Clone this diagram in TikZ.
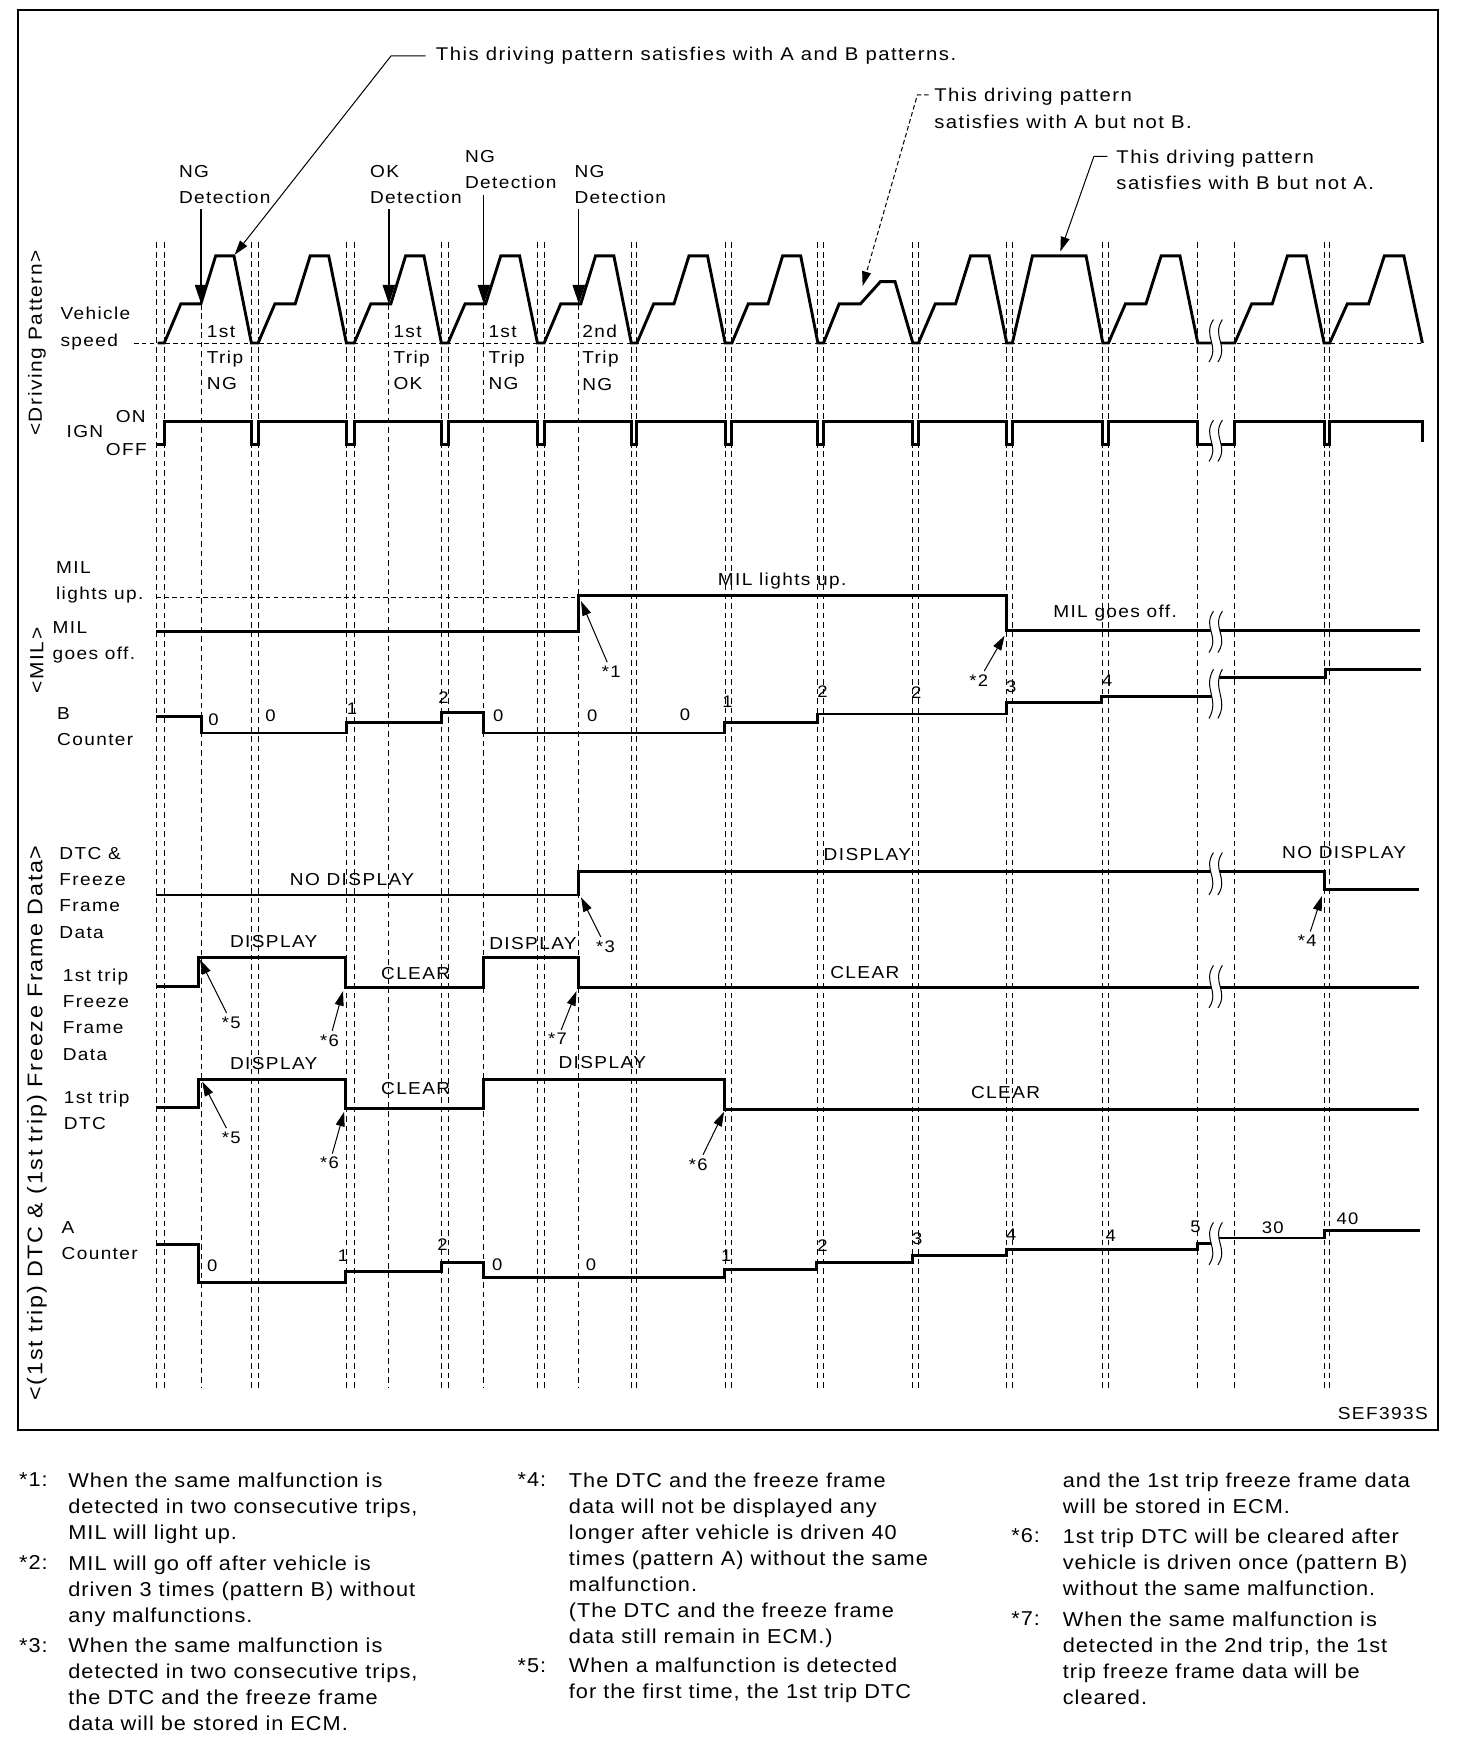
\documentclass[tikz,border=0pt]{standalone}
\usepackage{fontspec}
\setmainfont{Liberation Sans}
\newfontfamily\lblfont{Liberation Sans}[FakeStretch=1.1,LetterSpace=8]
\newfontfamily\notefont{Liberation Sans}[FakeStretch=1.08,LetterSpace=5]
\usetikzlibrary{arrows.meta}
\tikzset{
  sig/.style={line width=2.6pt,black},
  grid/.style={dash pattern=on 5pt off 3.5pt,line width=0.9pt,black},
  base/.style={dash pattern=on 4pt off 3pt,line width=0.7pt,black},
  frame/.style={line width=1.3pt,black},
  cutline/.style={line width=0.9pt,black},
  lbl/.style={font=\lblfont\fontsize{15.5}{23.5}\selectfont,inner sep=0pt,align=left},
  toplbl/.style={lbl,font=\lblfont\fontsize{16.5}{23.5}\selectfont},
  num/.style={font=\lblfont\fontsize{15}{18}\selectfont,inner sep=0pt},
  star/.style={font=\lblfont\fontsize{15}{18}\selectfont,inner sep=3pt},
  side/.style={font=\lblfont\fontsize{17}{20}\selectfont,rotate=90,inner sep=0pt},
  note/.style={font=\notefont\fontsize{18}{23.3}\selectfont,inner sep=0pt,align=left,anchor=north west},
  pointer/.style={-{Triangle[length=13pt,width=8pt]},line width=0.9pt},
  detect/.style={-{Triangle[length=17pt,width=11pt]},line width=1.2pt},
}
\newcommand\cutmark[2]{%
  \fill[white] (1086,#1) .. controls (1076,{#1+0.4*#2}) and (1092,{#1+0.6*#2}) .. (1082,{#1+#2})
    -- (1090,{#1+#2}) .. controls (1100,{#1+0.6*#2}) and (1084,{#1+0.4*#2}) .. (1094,#1) -- cycle;
  \draw[cutline] (1086,#1) .. controls (1076,{#1+0.4*#2}) and (1092,{#1+0.6*#2}) .. (1082,{#1+#2});
  \draw[cutline] (1094,#1) .. controls (1084,{#1+0.4*#2}) and (1100,{#1+0.6*#2}) .. (1090,{#1+#2});
}

\begin{document}
\begin{tikzpicture}[x=1pt,y=-1pt]
  \useasboundingbox (0,0) rectangle (1317,1568);
  \draw[frame] (16,9) rectangle (1287,1280);
  \foreach \x in {140,147,225,231,310,317,395,401,481,487,565,570,649,655,732,737,817,822,901,906,987,992,1072,1105,1185,1190}
     \draw[grid] (\x,217) -- (\x,1242);
  \foreach \x in {180,348,433,518}
     \draw[grid] (\x,272) -- (\x,1242);
  \draw[base] (120,307) -- (1272,307);
  \draw[base] (140,535) -- (518,535);

  \draw[sig] (141,307) -- (147,307)
    \foreach \a/\b in {147/225,231/310,317/395,401/481,487/565,570/649,655/732}{
      -- (\a,307) -- ({\a+0.19*(\b-\a)},272) -- ({\a+0.42*(\b-\a)},272)
      -- ({\a+0.59*(\b-\a)},229) -- ({\a+0.8*(\b-\a)},229) -- (\b,307)}
    -- (737,307) -- (751,272) -- (770,272) -- (788,252) -- (801,252) -- (817,307)
    \foreach \a/\b in {822/901}{
      -- (\a,307) -- ({\a+0.19*(\b-\a)},272) -- ({\a+0.42*(\b-\a)},272)
      -- ({\a+0.59*(\b-\a)},229) -- ({\a+0.8*(\b-\a)},229) -- (\b,307)}
    -- (906,307) -- (924,229) -- (972,229) -- (987,307)
    \foreach \a/\b in {992/1072,1105/1185,1190/1273}{
      -- (\a,307) -- ({\a+0.19*(\b-\a)},272) -- ({\a+0.42*(\b-\a)},272)
      -- ({\a+0.59*(\b-\a)},229) -- ({\a+0.8*(\b-\a)},229) -- (\b,307)};
  \draw[sig] (140,398) -- (147,398) -- (147,377)
    \foreach \l/\r in {225/231,310/317,395/401,481/487,565/570,649/655,732/737,817/822,901/906,987/992,1072/1105,1185/1190}{
      -- (\l,377) -- (\l,398) -- (\r,398) -- (\r,377)}
    -- (1273,377) -- (1273,396);
  \draw[sig] (140,565) -- (518,565) -- (518,533) -- (901,533) -- (901,564) -- (1271,564);
  \draw[sig] (140,641) -- (180,641) -- (180,656) -- (310,656) -- (310,647) -- (395,647) -- (395,638)
    -- (433,638) -- (433,656) -- (648,656) -- (648,647) -- (732,647) -- (732,639) -- (901,639)
    -- (901,629) -- (986,629) -- (986,623) -- (1086,623);
  \draw[sig] (1089,606) -- (1186,606) -- (1186,599) -- (1272,599);
  \draw[sig] (140,801) -- (518,801) -- (518,780) -- (1185,780) -- (1185,796) -- (1270,796);
  \draw[sig] (140,883) -- (178,883) -- (178,857) -- (309,857) -- (309,884) -- (433,884) -- (433,857)
    -- (518,857) -- (518,884) -- (1270,884);
  \draw[sig] (140,991) -- (178,991) -- (178,966) -- (309,966) -- (309,992) -- (433,992) -- (433,966)
    -- (648,966) -- (648,993) -- (1270,993);
  \draw[sig] (140,1114) -- (178,1114) -- (178,1148) -- (309,1148) -- (309,1138) -- (395,1138)
    -- (395,1130) -- (433,1130) -- (433,1143) -- (648,1143) -- (648,1136) -- (731,1136) -- (731,1130)
    -- (817,1130) -- (817,1124) -- (901,1124) -- (901,1118) -- (1072,1118) -- (1072,1113) -- (1086,1113);
  \draw[sig] (1089,1108) -- (1185,1108) -- (1185,1101) -- (1271,1101);

  \cutmark{286}{38}
  \cutmark{376}{37}
  \cutmark{547}{37}
  \cutmark{599}{44}
  \cutmark{763}{38}
  \cutmark{864}{38}
  \cutmark{1094}{38}

  \node[side] (sdp) at (33,307) {<Driving Pattern>};
  \node[side] (smil) at (33,591) {<MIL>};
  \node[side,font=\lblfont\fontsize{19}{22}\selectfont] (sdtc) at (33,1005) {<(1st trip) DTC \& (1st trip) Freeze Frame Data>};

  \node[lbl,anchor=west] (vs) at (54,294) {Vehicle\\speed};
  \node[lbl] (ign) at (76,386) {IGN};
  \node[lbl] (on) at (117,373) {ON};
  \node[lbl] (off) at (113,402) {OFF};
  \node[lbl,anchor=west] (mu) at (50,521) {MIL\\lights up.};
  \node[lbl,anchor=west] (mo) at (47,575) {MIL\\goes off.};
  \node[lbl,anchor=west] (bc) at (51,650) {B\\Counter};
  \node[lbl,anchor=west] (dtc) at (53,799) {DTC \&\\Freeze\\Frame\\Data};
  \node[lbl,anchor=west] (ffd) at (56,908) {1st trip\\Freeze\\Frame\\Data};
  \node[lbl,anchor=west] (fdtc) at (57,994) {1st trip\\DTC};
  \node[lbl,anchor=west] (ac) at (55,1110) {A\\Counter};

  \node[lbl,anchor=west] (det1) at (160,165) {NG\\Detection};
  \node[lbl,anchor=west] (det2) at (331,165) {OK\\Detection};
  \node[lbl,anchor=west] (det3) at (416,152) {NG\\Detection};
  \node[lbl,anchor=west] (det4) at (514,165) {NG\\Detection};
  \foreach \i/\x in {1/180,2/348,3/433,4/518}{
     \coordinate (d\i) at (\x,272);
     \draw[detect] ([yshift=-5pt]det\i.south -| d\i) -- (d\i);}

  \node[lbl,anchor=west] (tr1) at (185,320) {1st\\Trip\\NG};
  \node[lbl,anchor=west] (tr2) at (352,320) {1st\\Trip\\OK};
  \node[lbl,anchor=west] (tr3) at (437,320) {1st\\Trip\\NG};
  \node[lbl,anchor=west] (tr4) at (521,320) {2nd\\Trip\\NG};

  \node[toplbl,anchor=west] (pab) at (390,50) {This driving pattern satisfies with A and B patterns.};
  \node[toplbl,anchor=west] (pa) at (836,97) {This driving pattern\\satisfies with A but not B.};
  \node[toplbl,anchor=west] (pb) at (999,152) {This driving pattern\\satisfies with B but not A.};
  \coordinate (tab) at (210,228);
  \coordinate (ta) at (772,256);
  \coordinate (tb) at (949,225);
  \draw[pointer] ([xshift=-9pt]pab.west) -- ++(-31,0) -- (tab);
  \draw[pointer,dash pattern=on 4pt off 2.5pt] ([xshift=-5pt,yshift=12pt]pa.west) -- ++(-10,0) -- (ta);
  \draw[pointer] ([xshift=-8pt,yshift=12pt]pb.west) -- ++(-12,0) -- (tb);

  \node[lbl] (mlu) at (700,520) {MIL lights up.};
  \node[lbl] (mgo) at (998,549) {MIL goes off.};
  \node[lbl] (nd1) at (315,787) {NO DISPLAY};
  \node[lbl,anchor=west] (dd) at (737,765) {DISPLAY};
  \node[lbl] (nd2) at (1203,763) {NO DISPLAY};
  \node[lbl] (fd1) at (245,843) {DISPLAY};
  \node[lbl] (fc1) at (372,871) {CLEAR};
  \node[lbl] (fd2) at (477,844) {DISPLAY};
  \node[lbl] (fc2) at (774,870) {CLEAR};
  \node[lbl] (td1) at (245,952) {DISPLAY};
  \node[lbl] (tc1) at (372,974) {CLEAR};
  \node[lbl] (td2) at (539,951) {DISPLAY};
  \node[lbl] (tc2) at (900,978) {CLEAR};

  \foreach \v/\x/\y [count=\i] in {0/191/644,0/242/641,1/315/634,2/397/624,0/446/641,0/530/641,0/613/640,1/651/628,2/736/619,2/820/620,3/905/615,4/991/609}
     \node[num] (b\i) at (\x,\y) {\v};
  \foreach \v/\x/\y [count=\i] in {0/190/1133,1/307/1124,2/396/1114,0/445/1132,0/529/1132,1/650/1124,2/736/1115,3/821/1109,4/905/1105,4/994/1106,5/1070/1098,30/1139/1099,40/1206/1091}
     \node[num] (a\i) at (\x,\y) {\v};

  \foreach \i/\lab/\x/\y/\tx/\ty in {1/1/547/601/520/538,2/2/876/609/899/569,3/3/542/847/520/803,4/4/1170/842/1183/802,
      5/5/207/915/179/859,6/6/295/931/307/887,7/7/499/930/516/887,8/5/207/1018/181/968,9/6/295/1041/308/995,10/6/625/1042/648/995}{
     \node[star] (s\i) at (\x,\y) {*\lab};
     \coordinate (t\i) at (\tx,\ty);
     \draw[pointer] (s\i) -- (t\i);}

  \node[lbl,anchor=east] (ref) at (1278,1265) {SEF393S};

  \node[note] (k1) at (17,1318) {*1:};
  \node[note] (n1) at (61,1318) {When the same malfunction is\\detected in two consecutive trips,\\MIL will light up.};
  \node[note] (k2) at (17,1392) {*2:};
  \node[note] (n2) at (61,1392) {MIL will go off after vehicle is\\driven 3 times (pattern B) without\\any malfunctions.};
  \node[note] (k3) at (17,1466) {*3:};
  \node[note] (n3) at (61,1466) {When the same malfunction is\\detected in two consecutive trips,\\the DTC and the freeze frame\\data will be stored in ECM.};
  \node[note] (k4) at (463,1318) {*4:};
  \node[note] (n4) at (509,1318) {The DTC and the freeze frame\\data will not be displayed any\\longer after vehicle is driven 40\\times (pattern A) without the same\\malfunction.\\(The DTC and the freeze frame\\data still remain in ECM.)};
  \node[note] (k5) at (463,1484) {*5:};
  \node[note] (n5) at (509,1484) {When a malfunction is detected\\for the first time, the 1st trip DTC};
  \node[note] (n5b) at (951,1318) {and the 1st trip freeze frame data\\will be stored in ECM.};
  \node[note] (k6) at (905,1368) {*6:};
  \node[note] (n6) at (951,1368) {1st trip DTC will be cleared after\\vehicle is driven once (pattern B)\\without the same malfunction.};
  \node[note] (k7) at (905,1442) {*7:};
  \node[note] (n7) at (951,1442) {When the same malfunction is\\detected in the 2nd trip, the 1st\\trip freeze frame data will be\\cleared.};
\end{tikzpicture}
\end{document}
